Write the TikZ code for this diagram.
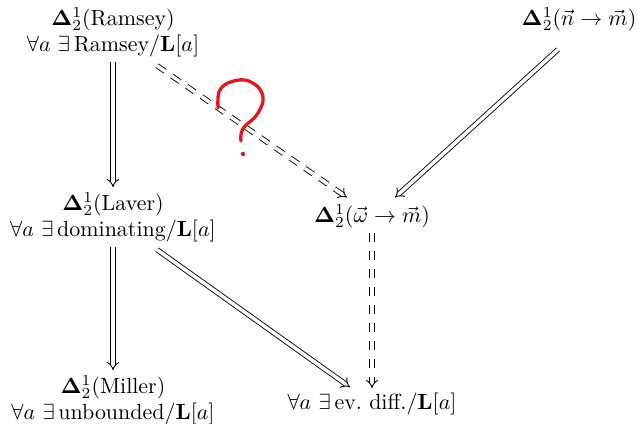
\documentclass[tikz,border=0pt]{standalone}
\usepackage{amsmath}
\usepackage{amssymb}
\usepackage{xcolor}
\usepackage{tikz}
\usetikzlibrary{arrows.meta,calc}
\definecolor{qred}{RGB}{228,24,28}
\tikzset{
  stmt/.style={align=center, inner sep=2pt},
  imp/.style={double, double distance=1.6pt, line width=0.4pt, -{Implies}},
  dashimp/.style={imp, dash pattern=on 4.5pt off 3.7pt},
  qmark/.style={draw=qred, line width=1.5pt, line cap=round, line join=round},
}

\begin{document}
\begin{tikzpicture}[x=0.016cm, y=-0.016cm]
  \useasboundingbox (0,0) rectangle (637,423);
  \node[stmt] (ramsey) at (113,32) {$\mathbf{\Delta}^1_2$(Ramsey)\\$\forall a\ \exists\,$Ramsey$/\mathbf{L}[a]$};
  \node[stmt] (laver) at (113,217) {$\mathbf{\Delta}^1_2$(Laver)\\$\forall a\ \exists\,$dominating$/\mathbf{L}[a]$};
  \node[stmt] (miller) at (113,400) {$\mathbf{\Delta}^1_2$(Miller)\\$\forall a\ \exists\,$unbounded$/\mathbf{L}[a]$};
  \node[stmt] (nm) at (579,19) {$\mathbf{\Delta}^1_2(\vec{n}\to\vec{m})$};
  \node[stmt] (omega) at (372,216) {$\mathbf{\Delta}^1_2(\vec{\omega}\to\vec{m})$};
  \node[stmt] (evdiff) at (372,404) {$\forall a\ \exists\,$ev.\ diff.$/\mathbf{L}[a]$};

  \draw[imp] (ramsey) -- (laver);
  \draw[imp] (laver) -- (miller);
  \draw[dashimp] ($(ramsey.south)+(44,4)$) -- ($(omega.north)+(-25,-2)$);
  \draw[imp] ($(nm.south)+(-21,14)$) -- ($(omega.north)+(23,-2)$);
  \draw[dashimp] (omega) -- (evdiff);
  \draw[imp] ($(laver.south)+(44,3)$) -- ($(evdiff.north)+(-22,-1)$);

  % the red question mark
  \draw[qmark] plot[smooth, tension=0.6] coordinates {(218,108) (219,92) (228,83) (245,80) (259,88) (263,101) (256,116) (245,126) (241,134) (241,141)};
  \fill[qred] (243,154) circle (2.2);
\end{tikzpicture}
\end{document}
